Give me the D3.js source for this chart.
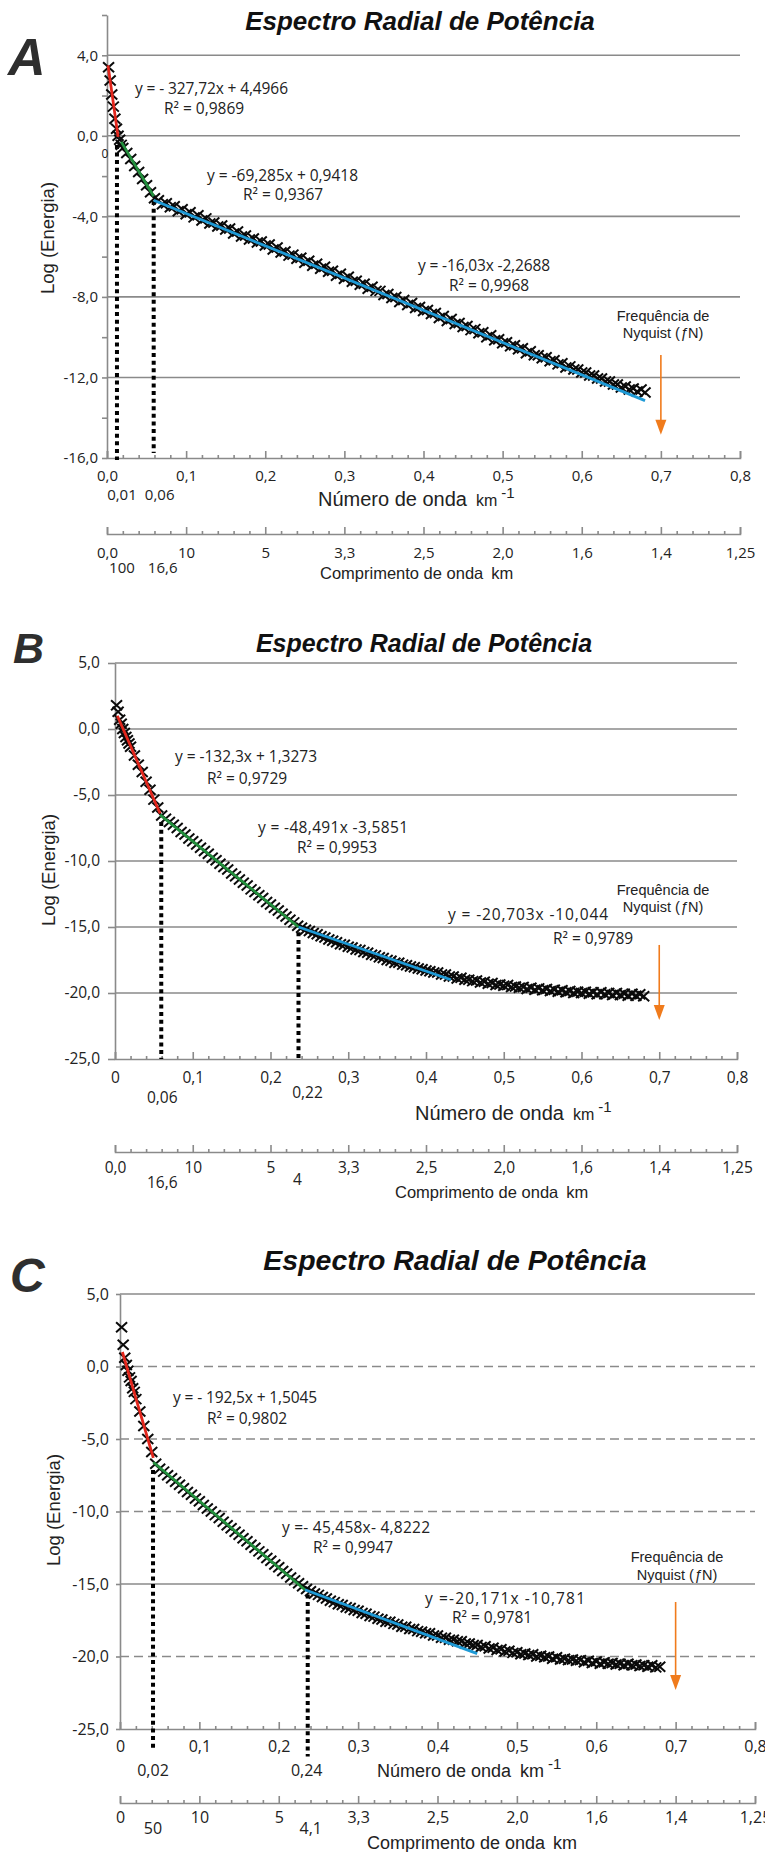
<!DOCTYPE html>
<html lang="pt">
<head>
<meta charset="UTF-8">
<title>Espectro Radial de Potência</title>
<script src="https://d3js.org/d3.v7.min.js"></script>
<style>
  body { margin: 0; background: #fff; }
  svg { display: block; font-family: "Liberation Sans", Arial, sans-serif; }
  .grid { stroke: #8a8a8a; stroke-width: 1.6; }
  .axis path, .axis line { stroke: #8a8a8a; stroke-width: 1.6; }
  .axis text, .num { font-family: "Open Sans", sans-serif; fill: #222; }
  .title { font-weight: bold; font-style: italic; fill: #111; }
  .letter { font-weight: bold; font-style: italic; fill: #2e2e2e; }
  .lbl { fill: #222; }
</style>
</head>
<body>
<svg id="chart" width="765" height="1852"></svg>
<script>
// ---- data ----
const chartTitle = "Espectro Radial de Potência";

// wave number (km^-1) sampling of the spectra
const waveNumber = [0.002,0.004,0.006,0.008,0.010,0.012,0.014,0.016,0.018,0.020,
  0.025,0.030,0.035,0.040,0.045,0.050,0.055,0.060,0.065,0.070,
  0.075,0.080,0.085,0.090,0.095,0.100,0.105,0.110,0.115,0.120,
  0.125,0.130,0.135,0.140,0.145,0.150,0.155,0.160,0.165,0.170,
  0.175,0.180,0.185,0.190,0.195,0.200,0.205,0.210,0.215,0.220,
  0.225,0.230,0.235,0.240,0.245,0.250,0.255,0.260,0.265,0.270,
  0.275,0.280,0.285,0.290,0.295,0.300,0.305,0.310,0.315,0.320,
  0.325,0.330,0.335,0.340,0.345,0.350,0.355,0.360,0.365,0.370,
  0.375,0.380,0.385,0.390,0.395,0.400,0.405,0.410,0.415,0.420,
  0.425,0.430,0.435,0.440,0.445,0.450,0.455,0.460,0.465,0.470,
  0.475,0.480,0.485,0.490,0.495,0.500,0.505,0.510,0.515,0.520,
  0.525,0.530,0.535,0.540,0.545,0.550,0.555,0.560,0.565,0.570,
  0.575,0.580,0.585,0.590,0.595,0.600,0.605,0.610,0.615,0.620,
  0.625,0.630,0.635,0.640,0.645,0.650,0.655,0.660,0.665,0.670,
  0.675,0.680];

// Log (Energia) of each panel
const energyA = [3.4,2.75,2.05,1.45,0.85,0.35,0.0,-0.2,-0.45,-0.6,
  -0.85,-1.15,-1.5,-1.8,-2.15,-2.45,-2.8,-3.1,-3.2,-3.4,
  -3.35,-3.55,-3.5,-3.75,-3.65,-3.9,-3.8,-4.05,-3.95,-4.2,
  -4.1,-4.35,-4.3,-4.5,-4.45,-4.65,-4.6,-4.85,-4.75,-5.0,
  -4.95,-5.15,-5.1,-5.3,-5.25,-5.45,-5.4,-5.65,-5.55,-5.8,
  -5.75,-5.95,-5.9,-6.1,-6.05,-6.3,-6.2,-6.45,-6.35,-6.6,
  -6.5,-6.75,-6.7,-6.95,-6.85,-7.1,-7.0,-7.25,-7.2,-7.4,
  -7.35,-7.6,-7.5,-7.7,-7.7,-7.9,-7.85,-8.05,-8.0,-8.25,
  -8.15,-8.4,-8.3,-8.55,-8.5,-8.7,-8.65,-8.85,-8.8,-9.05,
  -8.95,-9.2,-9.1,-9.35,-9.3,-9.5,-9.45,-9.65,-9.6,-9.8,
  -9.75,-10.0,-9.9,-10.15,-10.1,-10.3,-10.25,-10.45,-10.4,-10.6,
  -10.55,-10.8,-10.7,-10.9,-10.9,-11.05,-11.0,-11.2,-11.15,-11.35,
  -11.3,-11.5,-11.45,-11.6,-11.6,-11.75,-11.75,-11.9,-11.9,-12.05,
  -12.05,-12.2,-12.2,-12.35,-12.35,-12.5,-12.45,-12.6,-12.55,-12.7,
  -12.6,-12.75];

const energyB = [1.8,1.3,0.7,0.4,0.0,-0.3,-0.6,-0.85,-1.1,-1.35,
  -2.0,-2.7,-3.25,-4.0,-4.6,-5.35,-5.95,-6.55,-6.8,-7.05,
  -7.25,-7.5,-7.8,-8.0,-8.3,-8.5,-8.75,-9.0,-9.25,-9.45,
  -9.75,-9.95,-10.2,-10.45,-10.65,-10.95,-11.15,-11.4,-11.65,-11.85,
  -12.15,-12.35,-12.6,-12.8,-13.1,-13.3,-13.55,-13.75,-14.0,-14.2,
  -14.45,-14.65,-14.9,-15.05,-15.2,-15.3,-15.45,-15.55,-15.7,-15.8,
  -15.95,-16.05,-16.15,-16.3,-16.35,-16.5,-16.55,-16.7,-16.75,-16.9,
  -16.95,-17.1,-17.15,-17.3,-17.35,-17.5,-17.55,-17.7,-17.7,-17.85,
  -17.9,-18.0,-18.05,-18.15,-18.2,-18.3,-18.35,-18.45,-18.45,-18.6,
  -18.6,-18.75,-18.75,-18.9,-18.85,-19.0,-19.0,-19.1,-19.05,-19.2,
  -19.15,-19.3,-19.25,-19.4,-19.35,-19.45,-19.4,-19.55,-19.5,-19.6,
  -19.55,-19.7,-19.6,-19.75,-19.65,-19.8,-19.7,-19.85,-19.75,-19.9,
  -19.8,-19.95,-19.85,-20.0,-19.9,-20.0,-19.9,-20.05,-19.95,-20.1,
  -19.95,-20.1,-20.0,-20.15,-20.0,-20.15,-20.05,-20.2,-20.05,-20.2,
  -20.1,-20.25];

const energyC = [2.7,1.5,0.6,0.1,-0.3,-0.75,-1.0,-1.5,-1.75,-2.25,
  -3.1,-4.1,-5.0,-5.9,-6.7,-7.05,-7.25,-7.5,-7.7,-7.95,
  -8.15,-8.4,-8.65,-8.85,-9.1,-9.3,-9.55,-9.8,-10.0,-10.25,
  -10.45,-10.7,-10.95,-11.15,-11.4,-11.6,-11.85,-12.05,-12.3,-12.5,
  -12.75,-12.95,-13.2,-13.4,-13.65,-13.85,-14.1,-14.3,-14.55,-14.75,
  -14.95,-15.15,-15.35,-15.5,-15.65,-15.75,-15.9,-16.0,-16.15,-16.25,
  -16.4,-16.45,-16.6,-16.65,-16.8,-16.85,-17.0,-17.05,-17.2,-17.25,
  -17.4,-17.45,-17.6,-17.6,-17.75,-17.8,-17.95,-17.95,-18.1,-18.1,
  -18.25,-18.3,-18.4,-18.4,-18.55,-18.55,-18.7,-18.7,-18.85,-18.85,
  -18.95,-18.95,-19.1,-19.1,-19.2,-19.2,-19.35,-19.3,-19.45,-19.4,
  -19.55,-19.5,-19.65,-19.6,-19.75,-19.7,-19.85,-19.8,-19.9,-19.85,
  -20.0,-19.95,-20.05,-20.0,-20.15,-20.05,-20.2,-20.15,-20.25,-20.2,
  -20.3,-20.25,-20.4,-20.3,-20.45,-20.35,-20.5,-20.4,-20.5,-20.45,
  -20.55,-20.5,-20.6,-20.5,-20.6,-20.55,-20.65,-20.6,-20.7,-20.6,
  -20.75,-20.7];

// fitted segments [x1, y1, x2, y2] : red, green, blue
const fitsA = [[0.0013, 3.5, 0.014, -0.05], [0.018, -0.3, 0.059, -3.0], [0.059, -3.2, 0.68, -13.15]];
const fitsB = [[0.003, 1.0, 0.058, -6.4], [0.058, -6.5, 0.236, -15.0], [0.236, -15.0, 0.432, -19.0]];
const fitsC = [[0.003, 1.0, 0.042, -6.3], [0.042, -6.6, 0.233, -15.4], [0.233, -15.4, 0.45, -19.8]];

// fit equations
const eqA = ["y = - 327,72x + 4,4966", "R² = 0,9869", "y = -69,285x + 0,9418", "R² = 0,9367", "y = -16,03x -2,2688", "R² = 0,9968"];
const eqB = ["y = -132,3x + 1,3273", "R² = 0,9729", "y = -48,491x -3,5851", "R² = 0,9953", "y = -20,703x -10,044", "R² = 0,9789"];
const eqC = ["y = - 192,5x + 1,5045", "R² = 0,9802", "y =- 45,458x- 4,8222", "R² = 0,9947", "y =-20,171x -10,781", "R² = 0,9781"];

// break points (dotted lines) with wave number and wavelength labels
const breaksA = [0.0126, 0.059], breakLabelsA = ["0,01", "0,06"], breakWaveA = ["100", "16,6"];
const breaksB = [0.0595, 0.236], breakLabelsB = ["0,06", "0,22"], breakWaveB = ["16,6", "4"];
const breaksC = [0.0416, 0.2365], breakLabelsC = ["0,02", "0,24"], breakWaveC = ["50", "4,1"];

// axes
const xTicks = [0, 0.1, 0.2, 0.3, 0.4, 0.5, 0.6, 0.7, 0.8];
const xLabelsA = ["0,0", "0,1", "0,2", "0,3", "0,4", "0,5", "0,6", "0,7", "0,8"];
const xLabelsBC = ["0", "0,1", "0,2", "0,3", "0,4", "0,5", "0,6", "0,7", "0,8"];
const waveLabelsAB = ["0,0", "10", "5", "3,3", "2,5", "2,0", "1,6", "1,4", "1,25"];
const waveLabelsC = ["0", "10", "5", "3,3", "2,5", "2,0", "1,6", "1,4", "1,25"];
const yTicksA = [6, 4, 2, 0, -2, -4, -6, -8, -10, -12, -14, -16];
const yLabelsA = [4, 0, -4, -8, -12, -16];
const yTicksBC = [5, 0, -5, -10, -15, -20, -25];
const nyquist = 0.7;

const fitColors = ["#e2261c", "#23903d", "#1e9ad6"];
const arrowColor = "#f07b1c";
const fmt = d3.formatLocale({decimal: ",", thousands: ".", grouping: [3], currency: ["", ""], minus: "-"}).format(".1f");

// ---- layout of the three panels ----
const panels = [
  { letter: "A", energy: energyA, fits: fitsA, eqs: eqA, breaks: breaksA, breakLabels: breakLabelsA, breakWave: breakWaveA,
    xLabels: xLabelsA, waveLabels: waveLabelsAB, yTicks: yTicksA, yLabels: yLabelsA, grid: [4, 0, -4, -8, -12], dashed: [],
    left: 107, right: 740, yDomain: [6, -16], yRange: [15, 458], yTickSize: 5, yPad: 4, numSize: 15, xPad: 12,
    waveY: 534, wavePad: 13, letterPos: [8, 75, 52], titlePos: [420, 30, 26],
    yTitle: [47, 238], xTitle: [318, 506, 20, 16], waveTitle: [320, 579, 16.5],
    dots: [[-0.45, -16.1], [-3.24, -15.75]], breakLabelPos: [[5, 500], [6, 500]], breakWavePos: [[5, 573], [9, 573]],
    eqPos: [[135, 94], [164, 114], [207, 181], [243, 200], [418, 271], [449, 291]], eqWidth: [153, 0, 151, 0, 132, 0],
    nyqText: [663, 321, 338], arrow: [-10.88, -14.85], extra: [105, 158, "0"] },
  { letter: "B", energy: energyB, fits: fitsB, eqs: eqB, breaks: breaksB, breakLabels: breakLabelsB, breakWave: breakWaveB,
    xLabels: xLabelsBC, waveLabels: waveLabelsAB, yTicks: yTicksBC, yLabels: yTicksBC, grid: [5, 0, -5, -10, -15, -20], dashed: [],
    left: 115, right: 737, yDomain: [5, -25], yRange: [663, 1059], yTickSize: 7, yPad: 8, numSize: 15.5, xPad: 13,
    waveY: 1152, wavePad: 10, letterPos: [13, 663, 43], titlePos: [424, 652, 25],
    yTitle: [48, 870], xTitle: [415, 1120, 20, 16], waveTitle: [395, 1198, 16.5],
    dots: [[-7.05, -25], [-15.4, -25]], breakLabelPos: [[1, 1103], [9, 1098]], breakWavePos: [[1, 1188], [-1, 1185]],
    eqPos: [[175, 762], [207, 784], [258, 833], [297, 853], [448, 920], [553, 944]], eqWidth: [142, 0, 150, 0, 160, 0],
    nyqText: [663, 895, 912], arrow: [-16.36, -22.05] },
  { letter: "C", energy: energyC, fits: fitsC, eqs: eqC, breaks: breaksC, breakLabels: breakLabelsC, breakWave: breakWaveC,
    xLabels: xLabelsBC, waveLabels: waveLabelsC, yTicks: yTicksBC, yLabels: yTicksBC, grid: [5, 0, -5, -10, -15, -20], dashed: [0, -5, -10, -20],
    left: 120, right: 755, yDomain: [5, -25], yRange: [1294, 1729], yTickSize: 4, yPad: 7, numSize: 16, xPad: 12,
    waveY: 1803, wavePad: 9, letterPos: [10, 1292, 48], titlePos: [455, 1270, 28.5],
    yTitle: [53, 1510], xTitle: [377, 1777, 18, 18], waveTitle: [367, 1849, 18],
    dots: [[-7.14, -26.3], [-15.2, -26.9]], breakLabelPos: [[0, 1776], [-1, 1776]], breakWavePos: [[0, 1834], [3, 1834]],
    eqPos: [[173, 1403], [207, 1424], [282, 1533], [313, 1553], [425, 1604], [452, 1623]], eqWidth: [144, 0, 148, 0, 160, 0],
    nyqText: [677, 1562, 1580], arrow: [-16.24, -22.31] }
];

const svg = d3.select("#chart");
const minorTicks = d3.range(0.02, 0.8, 0.02).filter(v => Math.abs(v * 10 - Math.round(v * 10)) > 1e-6);

function drawPanel(p) {
  const g = svg.append("g");
  const x = d3.scaleLinear().domain([0, 0.8]).range([p.left, p.right]);
  const y = d3.scaleLinear().domain(p.yDomain).range(p.yRange);
  const yBase = y(p.yDomain[p.yDomain.length - 1]);

  g.append("text").attr("class", "letter")
    .attr("x", p.letterPos[0]).attr("y", p.letterPos[1]).style("font-size", p.letterPos[2] + "px").text(p.letter);
  g.append("text").attr("class", "title").attr("text-anchor", "middle")
    .attr("x", p.titlePos[0]).attr("y", p.titlePos[1]).style("font-size", p.titlePos[2] + "px").text(chartTitle);

  // gridlines
  g.selectAll(".grid").data(p.grid).join("line")
    .attr("class", "grid")
    .attr("x1", x(0)).attr("x2", x(0.8))
    .attr("y1", d => y(d)).attr("y2", d => y(d))
    .attr("stroke-dasharray", d => p.dashed.includes(d) ? "9,5" : null);

  // y axis
  g.append("g").attr("class", "axis").attr("transform", `translate(${x(0)},0)`)
    .call(d3.axisLeft(y).tickValues(p.yTicks).tickSizeInner(p.yTickSize).tickSizeOuter(0).tickPadding(p.yPad)
      .tickFormat(d => p.yLabels.includes(d) ? fmt(d) : ""))
    .call(a => a.selectAll("text").style("font-size", p.numSize + "px"));

  // wave number axis and wavelength axis (ticks pointing up)
  [[yBase, p.xLabels, p.xPad], [p.waveY, p.waveLabels, p.wavePad]].forEach(([yy, labels, pad]) => {
    g.append("g").attr("class", "axis").attr("transform", `translate(0,${yy})`)
      .call(d3.axisBottom(x).tickValues(xTicks).tickSizeInner(-7).tickSizeOuter(-7).tickPadding(pad)
        .tickFormat((d, i) => labels[i]))
      .call(a => a.selectAll("text").style("font-size", p.numSize + "px"));
    g.append("g").attr("class", "axis").attr("transform", `translate(0,${yy})`)
      .call(d3.axisBottom(x).tickValues(minorTicks).tickSize(-3).tickFormat(""))
      .call(a => a.select(".domain").remove());
  });

  // dotted break lines
  g.selectAll(".dots").data(p.breaks).join("line")
    .attr("x1", d => x(d)).attr("x2", d => x(d))
    .attr("y1", (d, i) => y(p.dots[i][0])).attr("y2", (d, i) => y(p.dots[i][1]))
    .attr("stroke", "#000").attr("stroke-width", 4).attr("stroke-dasharray", "4,3.6");

  g.selectAll(".blbl").data(p.breakLabels).join("text")
    .attr("class", "num").attr("text-anchor", "middle").style("font-size", p.numSize + "px")
    .attr("x", (d, i) => x(p.breaks[i]) + p.breakLabelPos[i][0]).attr("y", (d, i) => p.breakLabelPos[i][1])
    .text(d => d);
  g.selectAll(".bwave").data(p.breakWave).join("text")
    .attr("class", "num").attr("text-anchor", "middle").style("font-size", p.numSize + "px")
    .attr("x", (d, i) => x(p.breaks[i]) + p.breakWavePos[i][0]).attr("y", (d, i) => p.breakWavePos[i][1])
    .text(d => d);

  if (p.extra) {
    g.append("text").attr("class", "num").attr("text-anchor", "middle").style("font-size", "12px")
      .attr("x", p.extra[0]).attr("y", p.extra[1]).text(p.extra[2]);
  }

  // data points (x markers)
  g.append("g").selectAll("path").data(waveNumber.map((w, i) => [w, p.energy[i]])).join("path")
    .attr("transform", d => `translate(${x(d[0])},${y(d[1])})`)
    .attr("d", "M-5.5,-5L5.5,5M-5.5,5L5.5,-5")
    .attr("stroke", "#0a0a0a").attr("stroke-width", 2).attr("fill", "none");

  // fitted lines
  g.selectAll(".fit").data(p.fits).join("line")
    .attr("x1", d => x(d[0])).attr("y1", d => y(d[1]))
    .attr("x2", d => x(d[2])).attr("y2", d => y(d[3]))
    .attr("stroke", (d, i) => fitColors[i]).attr("stroke-width", 2.8);

  // equations
  g.selectAll(".eq").data(p.eqs).join("text")
    .attr("class", "num").style("font-size", "15.5px")
    .attr("x", (d, i) => p.eqPos[i][0]).attr("y", (d, i) => p.eqPos[i][1])
    .attr("textLength", (d, i) => p.eqWidth[i] || null)
    .attr("lengthAdjust", (d, i) => p.eqWidth[i] ? "spacing" : null)
    .text(d => d);

  // Nyquist frequency
  const nt = g.append("text").attr("class", "lbl").attr("text-anchor", "middle").style("font-size", "14.5px");
  nt.append("tspan").attr("x", p.nyqText[0]).attr("y", p.nyqText[1]).text("Frequência de");
  const t2 = nt.append("tspan").attr("x", p.nyqText[0]).attr("y", p.nyqText[2]);
  t2.append("tspan").text("Nyquist (");
  t2.append("tspan").style("font-style", "italic").text("ƒ");
  t2.append("tspan").text("N)");
  const ax = x(nyquist), ay0 = y(p.arrow[0]), ay1 = y(p.arrow[1]);
  g.append("line").attr("x1", ax).attr("x2", ax).attr("y1", ay0).attr("y2", ay1 - 12)
    .attr("stroke", arrowColor).attr("stroke-width", 1.6);
  g.append("path").attr("d", `M${ax - 5.5},${ay1 - 15}L${ax + 5.5},${ay1 - 15}L${ax},${ay1}Z`).attr("fill", arrowColor);

  // axis titles
  g.append("text").attr("class", "lbl").attr("text-anchor", "middle").style("font-size", "18.5px")
    .attr("transform", `translate(${p.yTitle[0] + 7},${p.yTitle[1]}) rotate(-90)`).text("Log (Energia)");
  const xt = g.append("text").attr("class", "lbl").attr("x", p.xTitle[0]).attr("y", p.xTitle[1]).style("font-size", p.xTitle[2] + "px");
  xt.append("tspan").text("Número de onda");
  xt.append("tspan").attr("dx", 9).style("font-size", p.xTitle[3] + "px").text("km");
  xt.append("tspan").attr("dx", 4).attr("dy", -8).style("font-size", "15px").text("-1");
  const wt = g.append("text").attr("class", "lbl").attr("x", p.waveTitle[0]).attr("y", p.waveTitle[1]).style("font-size", p.waveTitle[2] + "px");
  wt.append("tspan").text("Comprimento de onda");
  wt.append("tspan").attr("dx", 8).text("km");
}

panels.forEach(drawPanel);
</script>
</body>
</html>
